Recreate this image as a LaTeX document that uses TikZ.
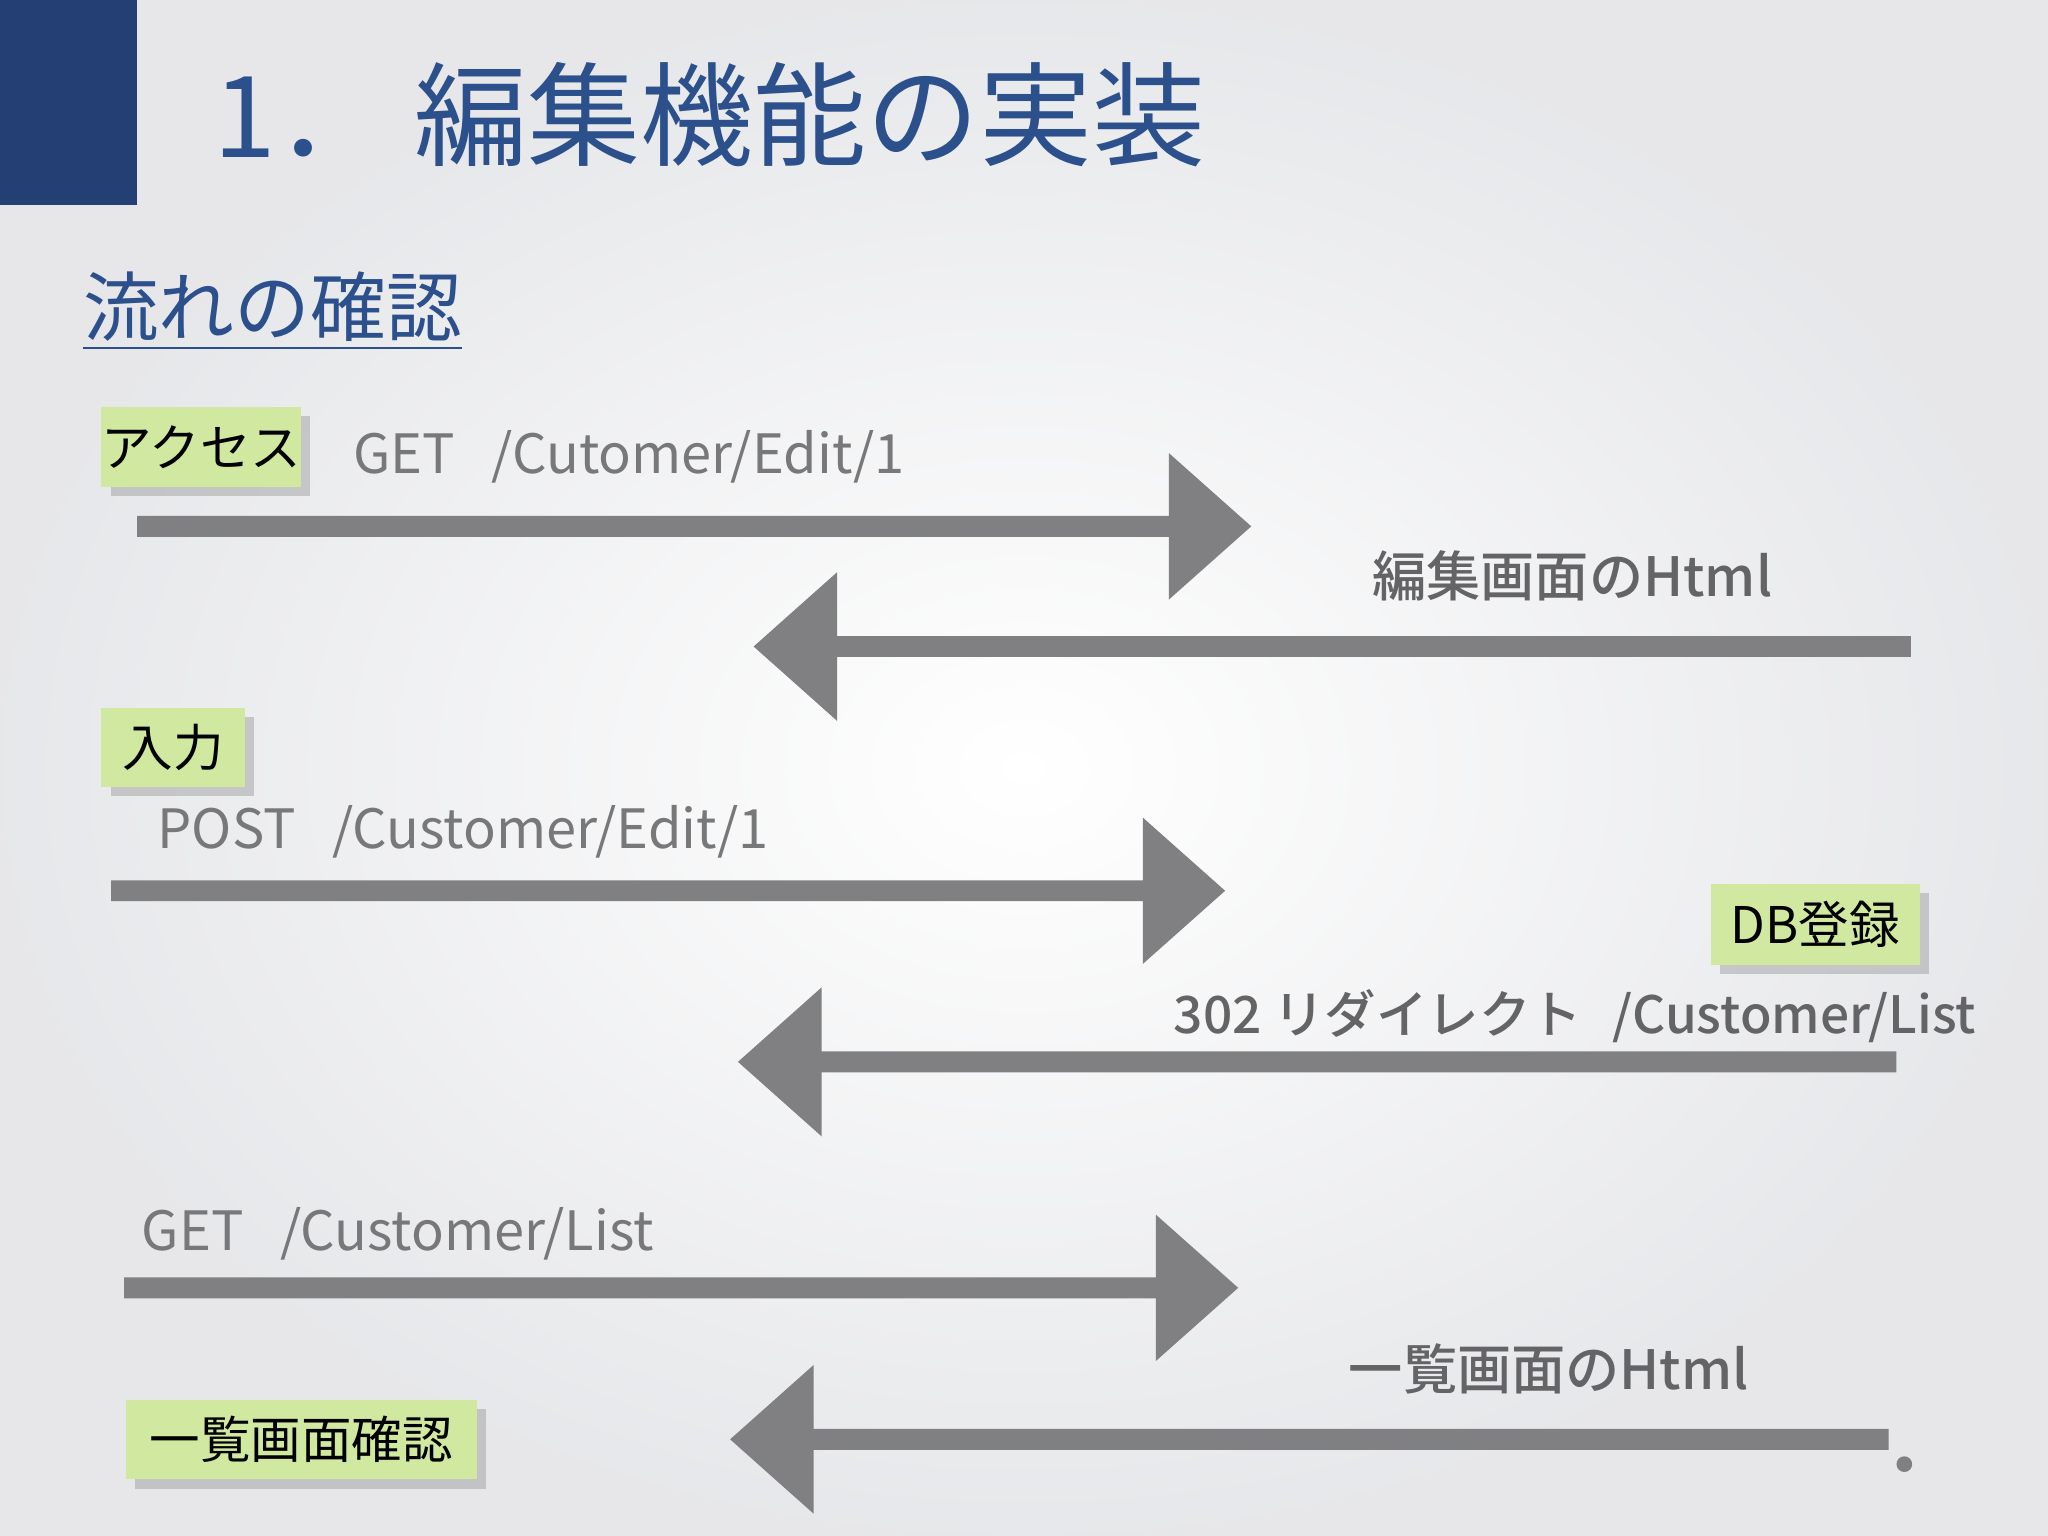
\documentclass[tikz,border=0pt]{standalone}
\usepackage{fontspec}
\setmainfont{Noto Sans CJK JP}
\newfontfamily\medf{Noto Sans CJK JP Medium}
\usetikzlibrary{shadows}
\definecolor{bg}{RGB}{242,243,246}
\definecolor{navy}{RGB}{36,63,116}
\definecolor{ttl}{RGB}{44,80,140}
\definecolor{arr}{RGB}{128,128,130}
\definecolor{lbl}{RGB}{120,120,122}
\definecolor{lbd}{RGB}{100,100,102}
\definecolor{grn}{RGB}{208,232,160}
\tikzset{
  box/.style={fill=grn,inner sep=0pt,anchor=north west,font=\fontsize{11}{13}\selectfont,
    drop shadow={shadow xshift=2pt,shadow yshift=-2pt,opacity=0.35}},
  lab/.style={text=lbl,font=\fontsize{11.8}{14}\selectfont,anchor=west,inner sep=0pt},
  labb/.style={text=lbd,font=\fontsize{11.8}{14}\selectfont,anchor=west,inner sep=0pt},
}
\newcommand{\rarr}[3]{\fill[arr] (#1,#3-8) -- (#2-63,#3-8) -- (#2-63,#3-56) -- (#2,#3) -- (#2-63,#3+56) -- (#2-63,#3+8) -- (#1,#3+8) -- cycle;}
\newcommand{\larr}[3]{\fill[arr] (#1,#3-8) -- (#2+64,#3-8) -- (#2+64,#3-57) -- (#2,#3) -- (#2+64,#3+57) -- (#2+64,#3+8) -- (#1,#3+8) -- cycle;}
\begin{document}
\begin{tikzpicture}[x=0.01cm,y=-0.01cm]
\useasboundingbox (0,0) rectangle (1568,1176);
\shade[inner color=white,outer color=bg!90!gray] (0,0) rectangle (1568,1176);
\fill[navy] (0,0) rectangle (105,157);
\node[anchor=west,text=ttl,font=\fontsize{24.6}{28}\selectfont,inner sep=0pt] (title) at (163,88) {1．\ 編集機能の実装};
\node[anchor=west,text=ttl,font=\fontsize{16.5}{20}\selectfont,inner sep=0pt] (sub) at (63,238) {\underline{流れの確認}};
\node[box,minimum width=1.51cm,minimum height=0.61cm] (acc) at (77,311) {アクセス};
\node[box,minimum width=1.10cm,minimum height=0.61cm] (inp) at (77,541) {入力};
\node[box,minimum width=1.60cm,minimum height=0.62cm] (db) at (1309,676) {DB登録};
\node[box,minimum width=2.68cm,minimum height=0.61cm] (ls) at (96,1071) {一覧画面確認};
\node[lab] (l1) at (270,350) {GET\ \ \ /Cutomer/Edit/1};
\node[labb] (l2) at (1050,441) {\medf 編集画面のHtml};
\node[lab] (l3) at (120,637) {POST\ \ \ /Customer/Edit/1};
\node[labb,font=\fontsize{11.2}{14}\selectfont] (l4) at (898,778) {\medf 302 リダイレクト\hspace{0.6em}/Customer/List};
\node[lab] (l5) at (108,945) {GET\ \ \ /Customer/List};
\node[labb] (l6) at (1032,1048) {\medf 一覧画面のHtml};
\rarr{105}{958}{403}
\larr{1463}{577}{495}
\rarr{85}{938}{682}
\larr{1452}{565}{813}
\rarr{95}{948}{986}
\larr{1446}{559}{1102}
\fill[arr] (1458,1121) circle (6);
\end{tikzpicture}
\end{document}
